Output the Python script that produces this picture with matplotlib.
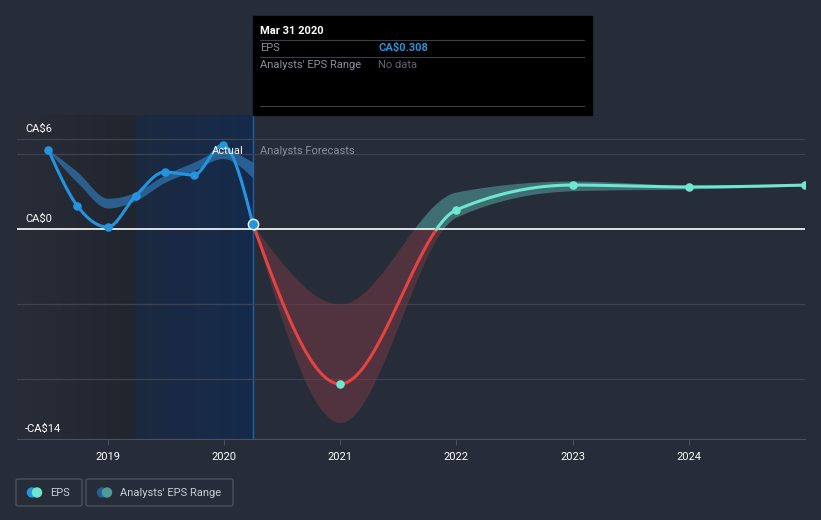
"""EPS history and analyst forecast chart."""

import matplotlib
matplotlib.use("Agg")
import matplotlib.pyplot as plt
import numpy as np
from matplotlib.patches import FancyBboxPatch, Circle, Rectangle

plt.rcParams["font.family"] = ["Roboto", "DejaVu Sans"]

# actual EPS (decimal years, CA$)
actual_x = [2018.49, 2018.74, 2019.0, 2019.24, 2019.49, 2019.74, 2019.99, 2020.25]
actual_eps = [5.27, 1.53, 0.13, 2.2, 3.8, 3.6, 5.6, 0.308]

# past consensus band
past_x = [2018.49, 2018.74, 2019.0, 2019.24, 2019.49, 2019.74, 2019.99, 2020.25]
past_hi = [5.3, 3.8, 2.05, 2.45, 3.6, 4.45, 5.25, 4.45]
past_lo = [5.2, 3.1, 1.4, 1.9, 3.1, 3.9, 4.7, 3.4]

# analyst forecasts
fc_x = [2020.25, 2021.0, 2022.0, 2023.0, 2024.0, 2025.0]
fc_eps = [0.308, -10.33, 1.27, 2.93, 2.8, 2.93]
fc_hi = [0.308, -5.0, 2.47, 3.2, 2.93, 2.97]
fc_lo = [0.308, -12.9, 0.8, 2.55, 2.67, 2.88]

year_ticks = [2019, 2020, 2021, 2022, 2023, 2024]
y_labels = {6: "CA$6", 0: "CA$0", -14: "-CA$14"}

BG = "#262d39"
BLUE = "#2394df"
TEAL = "#6ee6d0"
RED = "#e54242"


def monotone(xs, ys, n=300):
    """Monotone cubic curve through the points (like d3 curveMonotoneX)."""
    xs = np.asarray(xs, float)
    ys = np.asarray(ys, float)
    h = np.diff(xs)
    s = np.diff(ys) / h
    m = np.zeros(len(xs))
    for i in range(1, len(xs) - 1):
        p = (s[i - 1] * h[i] + s[i] * h[i - 1]) / (h[i - 1] + h[i])
        m[i] = (np.sign(s[i - 1]) + np.sign(s[i])) * min(abs(s[i - 1]), abs(s[i]), 0.5 * abs(p))
    m[0] = (3 * s[0] - m[1]) / 2
    m[-1] = (3 * s[-1] - m[-2]) / 2
    out_x, out_y = [], []
    for i in range(len(xs) - 1):
        t = np.linspace(0, 1, n)
        h00 = 2 * t**3 - 3 * t**2 + 1
        h10 = t**3 - 2 * t**2 + t
        h01 = -2 * t**3 + 3 * t**2
        h11 = t**3 - t**2
        out_x.append(xs[i] + t * h[i])
        out_y.append(h00 * ys[i] + h10 * h[i] * m[i] + h01 * ys[i + 1] + h11 * h[i] * m[i + 1])
    return np.concatenate(out_x), np.concatenate(out_y)


fig = plt.figure(figsize=(8.21, 5.2), dpi=100, facecolor=BG)
ax = fig.add_axes([17 / 821, 81 / 520, 788 / 821, 324 / 520])
ax.set_facecolor(BG)
x0, x1 = 2018.22, 2025.0
y0, y1 = -14, 7.6
ax.set_xlim(x0, x1)
ax.set_ylim(y0, y1)

# shaded background regions
grad = np.linspace(0, 1, 100).reshape(1, -1)
dark = np.array([[0x28, 0x2d, 0x38], [0x21, 0x25, 0x2e]]) / 255
img = dark[0] + (dark[1] - dark[0]) * grad[..., None]
ax.imshow(img, extent=[x0, 2019.24, y0, y1], aspect="auto", zorder=0)
blue_bg = np.array([[0x1c, 0x29, 0x40], [0x15, 0x2b, 0x4b]]) / 255
img2 = blue_bg[0] + (blue_bg[1] - blue_bg[0]) * grad[..., None]
ax.imshow(img2, extent=[2019.24, 2020.25, y0, y1], aspect="auto", zorder=0)
ax.axvline(2020.25, color="#1f5fa8", lw=1, zorder=1)

# grid
for g in [6, 5, -5, -10]:
    ax.axhline(g, color="#3d4350", lw=0.9, zorder=1)
ax.axhline(0, color="white", lw=1.2, zorder=4)

# past consensus band
bx, bhi = monotone(past_x, past_hi)
_, blo = monotone(past_x, past_lo)
ax.fill_between(bx, blo, bhi, color="#2e6ea6", alpha=0.8, lw=0, zorder=2)

# forecast band, split at zero
fx, fhi = monotone(fc_x, fc_hi)
_, flo = monotone(fc_x, fc_lo)
ax.fill_between(fx, np.minimum(flo, 0), np.minimum(fhi, 0), color="#7b3a44", alpha=0.5, lw=0, zorder=2)
ax.fill_between(fx, np.maximum(flo, 0), np.maximum(fhi, 0), color="#4f9b98", alpha=0.6, lw=0, zorder=2)

# actual line
ax_x, ax_y = monotone(actual_x, actual_eps)
ax.plot(ax_x, ax_y, color=BLUE, lw=2.2, zorder=5, solid_capstyle="round")
ax.scatter(actual_x[:-1], actual_eps[:-1], s=38, color=BLUE, zorder=6, lw=0)
ax.scatter(actual_x[-1:], actual_eps[-1:], s=55, color=BLUE, edgecolor="white", lw=1, zorder=7)

# forecast line coloured by sign
lx, ly = monotone(fc_x, fc_eps)
ax.plot(lx, np.ma.masked_where(ly > 0.05, ly), color=RED, lw=2.2, zorder=5)
ax.plot(lx, np.ma.masked_where(ly < -0.05, ly), color=TEAL, lw=2.2, zorder=5)
ax.scatter(fc_x[1:], fc_eps[1:], s=38, color=TEAL, zorder=6, lw=0)

# axes styling
for side in ["top", "right", "left"]:
    ax.spines[side].set_visible(False)
ax.spines["bottom"].set_color("#4a505c")
ax.set_yticks([])
ax.set_xticks(year_ticks)
ax.set_xticklabels([str(y) for y in year_ticks], color="white", fontsize=8)
ax.tick_params(axis="x", colors="#4a505c", length=4, pad=5, labelcolor="white")

for v, lab in y_labels.items():
    ax.text(2018.29, v + 0.35, lab, color="white", fontsize=8, va="bottom", ha="left", zorder=8)

ax.text(2020.17, 5.2, "Actual", color="white", fontsize=8, ha="right", va="center", zorder=8)
ax.text(2020.31, 5.2, "Analysts Forecasts", color="#8a8f99", fontsize=8, ha="left", va="center", zorder=8)

# tooltip
fig.patches.append(Rectangle((253 / 821, 1 - 115 / 520), 339 / 821, 99 / 520,
                             transform=fig.transFigure, color="black", zorder=10))
for yy in [40, 57, 106]:
    fig.lines.append(plt.Line2D([260 / 821, 584 / 821], [1 - yy / 520] * 2, transform=fig.transFigure,
                                color="#3b3f46", lw=0.8, zorder=11))
fig.text(260 / 821, 1 - 31 / 520, "Mar 31 2020", color="white", fontsize=8, fontweight="bold",
         va="center", zorder=12)
fig.text(260 / 821, 1 - 48 / 520, "EPS", color="#8a8f99", fontsize=8, va="center", zorder=12)
fig.text(378 / 821, 1 - 48 / 520, "CA$0.308", color=BLUE, fontsize=8, fontweight="bold", va="center", zorder=12)
fig.text(260 / 821, 1 - 65 / 520, "Analysts' EPS Range", color="#8a8f99", fontsize=8, va="center", zorder=12)
fig.text(378 / 821, 1 - 65 / 520, "No data", color="#5f636b", fontsize=8, va="center", zorder=12)

# legend
legend_items = [
    (16, 66, "EPS", BLUE, TEAL),
    (86, 147, "Analysts' EPS Range", "#2a5f92", "#4f9b98"),
]
for lx0, w, label, c1, c2 in legend_items:
    fig.patches.append(FancyBboxPatch((lx0 / 821, 1 - 506 / 520), w / 821, 27 / 520,
                                      boxstyle="round,pad=0,rounding_size=0.003",
                                      transform=fig.transFigure, facecolor="none",
                                      edgecolor="#4a505c", lw=1))
    cy = 1 - 492.5 / 520
    lax = fig.add_axes([(lx0 + 10) / 821, 1 - 499 / 520, 20 / 821, 13 / 520])
    lax.set_xlim(0, 20)
    lax.set_ylim(0, 13)
    lax.set_aspect("equal")
    lax.axis("off")
    lax.add_patch(Circle((6, 6.5), 4.5, color=c1))
    lax.add_patch(Circle((11, 6.5), 4.5, color=c2))
    fig.text((lx0 + 34) / 821, cy, label, color="#c9ccd2", fontsize=8, va="center")

fig.savefig("out.png", dpi=100, facecolor=BG)
